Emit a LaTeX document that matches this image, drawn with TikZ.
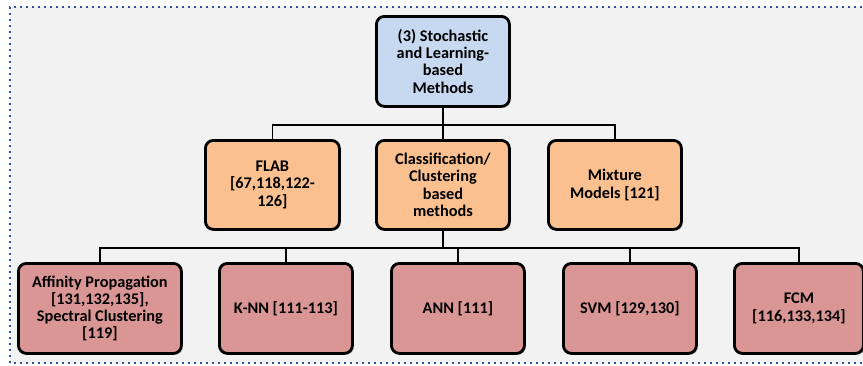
\documentclass[tikz,border=0pt]{standalone}
\usepackage{fontspec}
\setmainfont{Carlito}
\usetikzlibrary{shadows}
\definecolor{panel}{HTML}{F2F2F2}
\definecolor{frameblue}{HTML}{2F5597}
\definecolor{rootfill}{HTML}{C6D9F1}
\definecolor{midfill}{HTML}{FAC090}
\definecolor{leaffill}{HTML}{D99694}
\tikzset{
  box/.style={draw=black, line width=2.8pt, rounded corners=8pt,
    font=\fontsize{16.3}{17.2}\selectfont\bfseries, align=center,
    inner sep=0pt, anchor=north west,
    drop shadow={shadow xshift=1.5pt, shadow yshift=-1.5pt, opacity=0.35, fill=black!60}},
  rootbox/.style={box, fill=rootfill},
  midbox/.style={box, fill=midfill},
  leafbox/.style={box, fill=leaffill},
  link/.style={draw=black, line width=1.8pt}
}
\begin{document}
\begin{tikzpicture}[x=1pt, y=-1pt]
  \clip (0,0) rectangle (863,365);
  \fill[white] (0,0) rectangle (863,365);
  % panel with dotted frame
  \fill[panel] (10,7) rectangle (880,363);
  \draw[frameblue, line width=2pt, dash pattern=on 2pt off 4pt] (880,7) -- (10,7) -- (10,363) -- (880,363);

  % root
  \node[rootbox, minimum width=133pt, minimum height=90pt] (root) at (375,15)
    {(3) Stochastic\\and Learning-\\based\\Methods};

  % second level
  \node[midbox, minimum width=134pt, minimum height=89pt] (flab) at (204,139)
    {FLAB\\{}[67,118,122-\\126]};
  \node[midbox, minimum width=133pt, minimum height=89pt] (clus) at (375,139)
    {Classification/\\Clustering\\based\\methods};
  \node[midbox, minimum width=133pt, minimum height=89pt] (mix) at (547,139)
    {Mixture\\Models [121]};

  % third level
  \node[leafbox, minimum width=163pt, minimum height=90pt] (aff) at (17,262)
    {Affinity Propagation\\{}[131,132,135],\\Spectral Clustering\\{}[119]};
  \node[leafbox, minimum width=133pt, minimum height=90pt] (knn) at (218,262)
    {K-NN [111-113]};
  \node[leafbox, minimum width=133pt, minimum height=90pt] (ann) at (390,262)
    {ANN [111]};
  \node[leafbox, minimum width=133pt, minimum height=90pt] (svm) at (562,262)
    {SVM [129,130]};
  \node[leafbox, minimum width=129pt, minimum height=90pt] (fcm) at (733,262)
    {FCM\\{}[116,133,134]};

  % connectors: root to second level
  \coordinate (busA) at ([yshift=-17pt]root.south);
  \draw[link] (root.south) -- (busA);
  \draw[link] (flab.north) |- (busA);
  \draw[link] (mix.north) |- (busA);
  \draw[link] (clus.north) -- (busA);

  % connectors: classification to leaves
  \coordinate (busB) at ([yshift=-17pt]clus.south);
  \draw[link] (clus.south) -- (busB);
  \draw[link] (aff.north) |- (busB);
  \draw[link] (fcm.north) |- (busB);
  \draw[link] (knn.north) -- (knn.north |- busB);
  \draw[link] (ann.north) -- (ann.north |- busB);
  \draw[link] (svm.north) -- (svm.north |- busB);
\end{tikzpicture}
\end{document}
